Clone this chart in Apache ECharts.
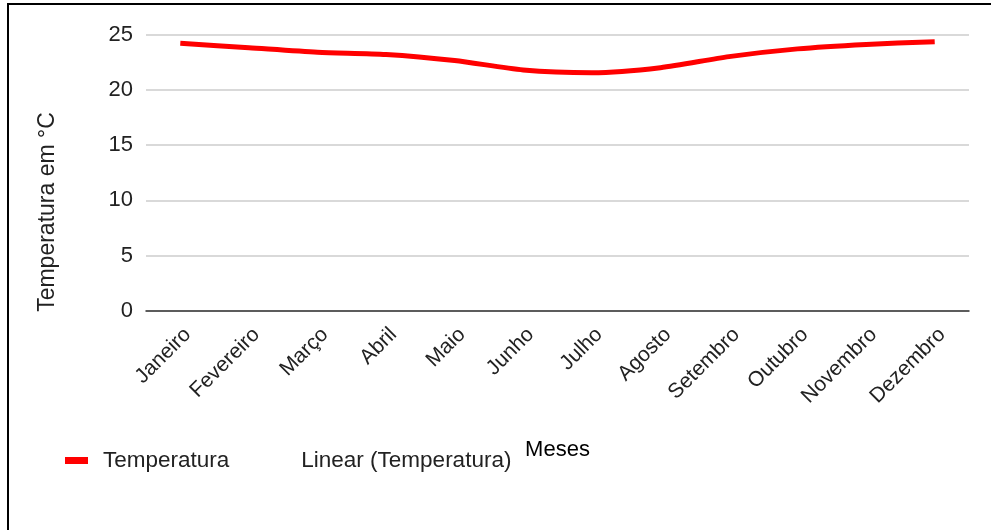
<!DOCTYPE html>
<html>
<head>
<meta charset="utf-8">
<script src="https://cdn.jsdelivr.net/npm/echarts@6/dist/echarts.min.js"></script>
<style>
html,body{margin:0;padding:0;background:#fff;}
#frame{position:absolute;left:7px;top:3px;width:1000px;height:540px;border-left:2px solid #000;border-top:2px solid #000;}
#chart{position:absolute;left:0;top:0;width:991px;height:530px;}
</style>
</head>
<body>
<div id="frame"></div>
<div id="chart"></div>
<script>
const months = ['Janeiro','Fevereiro','Março','Abril','Maio','Junho','Julho','Agosto','Setembro','Outubro','Novembro','Dezembro'];
const temperatura = [24.2, 23.8, 23.4, 23.2, 22.65, 21.8, 21.55, 22.0, 23.0, 23.7, 24.1, 24.35];
const yTicks = {min: 0, max: 25, interval: 5};
const seriesNames = ['Temperatura', 'Linear (Temperatura)'];
const yTitle = 'Temperatura em °C';
const xTitle = 'Meses';

const font = '"Liberation Sans", Arial, sans-serif';
const chart = echarts.init(document.getElementById('chart'), null, {renderer: 'canvas'});
chart.setOption({
  animation: false,
  backgroundColor: 'transparent',
  grid: {left: 146, right: 22, top: 34.5, bottom: 219, containLabel: false},
  legend: {
    left: 60, top: 444,
    itemWidth: 23, itemHeight: 7, itemGap: 34,
    icon: 'rect',
    textStyle: {fontFamily: font, fontSize: 22.5, color: '#222', padding: [0,0,0,10]},
    data: [
      {name: seriesNames[0], itemStyle: {color: '#ff0000'}},
      {name: seriesNames[1], itemStyle: {color: 'rgba(0,0,0,0)'}}
    ]
  },
  xAxis: {
    type: 'category',
    data: months,
    boundaryGap: true,
    name: xTitle,
    nameLocation: 'middle',
    nameGap: 128,
    nameTextStyle: {fontFamily: font, fontSize: 22, color: '#000'},
    axisLine: {lineStyle: {color: '#333', width: 1.5}},
    axisTick: {show: false},
    axisLabel: {rotate: 45, margin: 13, verticalAlign: 'top', fontFamily: font, fontSize: 21, color: '#222', interval: 0}
  },
  yAxis: {
    type: 'value',
    min: yTicks.min, max: yTicks.max, interval: yTicks.interval,
    axisLine: {show: false},
    axisTick: {show: false},
    splitLine: {lineStyle: {color: '#cccccc', width: 1.5}},
    axisLabel: {margin: 13, fontFamily: font, fontSize: 22, color: '#222'}
  },
  graphic: [{
    type: 'text',
    x: 48, y: 212,
    rotation: Math.PI / 2,
    style: {text: yTitle, fontFamily: font, fontSize: 23, fill: '#222', textAlign: 'center', textVerticalAlign: 'middle'}
  }],
  series: [
    {
      name: seriesNames[0],
      type: 'line',
      data: temperatura,
      smooth: 0.25,
      showSymbol: false,
      symbol: 'none',
      itemStyle: {color: '#ff0000'},
      lineStyle: {color: '#ff0000', width: 5}
    },
    {
      name: seriesNames[1],
      type: 'line',
      data: [],
      showSymbol: false,
      itemStyle: {color: 'rgba(0,0,0,0)'},
      lineStyle: {opacity: 0}
    }
  ]
});
</script>
</body>
</html>
